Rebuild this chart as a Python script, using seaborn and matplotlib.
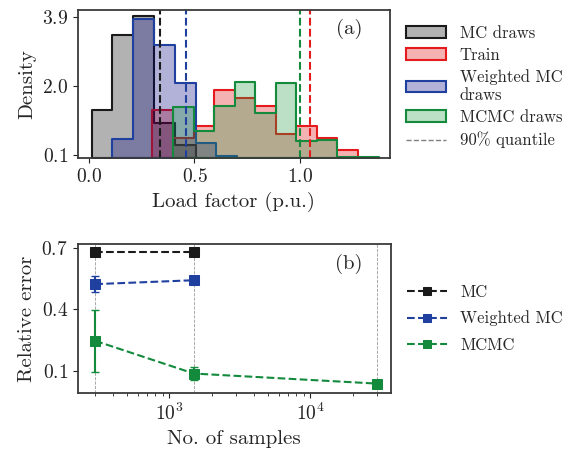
import numpy as np
import pandas as pd
import matplotlib
matplotlib.use("Agg")
import matplotlib.pyplot as plt
import seaborn as sns

# ==========================
# Data
# ==========================
# (a) histogram densities per bin
mc_edges = [0.011, 0.110, 0.210, 0.309, 0.408, 0.507]
mc_density = [1.35, 3.40, 3.92, 0.97, 0.37]

train_edges = [0.297, 0.396, 0.496, 0.591, 0.693, 0.790, 0.886, 0.981, 1.080, 1.176, 1.275]
train_density = [1.33, 0.56, 0.90, 1.89, 1.66, 1.445, 0.67, 0.896, 0.56, 0.24]

wmc_edges = [0.110, 0.210, 0.309, 0.408, 0.507, 0.600, 0.700]
wmc_density = [0.53, 3.85, 3.12, 2.09, 0.42, 0.07]

mcmc_edges = [0.397, 0.496, 0.591, 0.693, 0.790, 0.886, 0.981, 1.080, 1.176, 1.275, 1.378]
mcmc_density = [1.42, 0.76, 1.46, 2.115, 1.245, 2.07, 0.485, 0.51, 0.04, 0.04]

# 90% quantiles
q90 = {"MC": 0.336, "Train": 1.047, "Weighted": 0.460, "MCMC": 1.000}

# (b) relative error vs number of samples
mc_n = [300, 1500]
mc_err = [0.677, 0.677]
mc_std = [0.004, 0.004]

wmc_n = [300, 1500]
wmc_err = [0.522, 0.541]
wmc_std = [0.040, 0.015]

mcmc_n = [300, 1500, 30000]
mcmc_err = [0.246, 0.087, 0.038]
mcmc_std = [0.150, 0.032, 0.004]

sample_sizes = [300, 1500, 30000]

# ==========================
# Style
# ==========================
sns.set_style("ticks")
plt.rcParams["font.family"] = ["cmr10", "DejaVu Serif"]
plt.rcParams["mathtext.fontset"] = "cm"
plt.rcParams["axes.formatter.use_mathtext"] = True
plt.rcParams["axes.edgecolor"] = "#3a3a3a"
plt.rcParams["axes.linewidth"] = 1.3
plt.rcParams["xtick.color"] = "#222222"
plt.rcParams["ytick.color"] = "#222222"

BLACK = "#1a1a1a"
RED = "#e41a1c"
BLUE = "#2040a0"
GREEN = "#138a3c"

fig = plt.figure(figsize=(5.63, 4.49), dpi=100)
ax1 = fig.add_axes([0.138, 0.647, 0.555, 0.331])
ax2 = fig.add_axes([0.138, 0.125, 0.556, 0.331])

# ==========================
# Panel (a): histograms
# ==========================
def centers(edges):
    e = np.asarray(edges)
    return (e[:-1] + e[1:]) / 2

hists = [
    ("MC draws", mc_edges, mc_density, "black", BLACK),
    ("Train", train_edges, train_density, "#e00000", RED),
    ("Weighted MC\ndraws", wmc_edges, wmc_density, "#000080", BLUE),
    ("MCMC draws", mcmc_edges, mcmc_density, "#1f9a3f", GREEN),
]

for label, edges, dens, fill, edge in hists:
    sns.histplot(
        x=centers(edges), weights=dens, bins=edges,
        element="step", fill=True, stat="count",
        color=fill, alpha=0.3, edgecolor=edge, linewidth=1.5,
        label=label, ax=ax1,
    )

for key, col in [("MC", BLACK), ("Weighted", BLUE), ("MCMC", GREEN), ("Train", RED)]:
    ax1.axvline(q90[key], color=col, linestyle="--", linewidth=1.5)

ax1.plot([], [], color="gray", linestyle="--", linewidth=1, label="90% quantile")

ax1.set_xlim(-0.055, 1.43)
ax1.set_ylim(0, 4.1)
ax1.set_xticks([0.0, 0.5, 1.0])
ax1.set_yticks([0.1, 2.0, 3.9])
ax1.set_xlabel("Load factor (p.u.)", fontsize=15)
ax1.set_ylabel("Density", fontsize=15)
ax1.tick_params(labelsize=14)
ax1.text(0.91, 0.87, "(a)", transform=ax1.transAxes, ha="right", va="center", fontsize=15)
ax1.legend(loc="upper left", bbox_to_anchor=(1.03, 0.94), frameon=False,
           fontsize=12, handlelength=2.4, labelspacing=0.4, borderaxespad=0)

# ==========================
# Panel (b): relative error
# ==========================
for n in sample_sizes:
    ax2.axvline(n, color="gray", linestyle="--", linewidth=0.6, alpha=0.8, zorder=0)

series = [
    ("MC", mc_n, mc_err, mc_std, BLACK),
    ("Weighted MC", wmc_n, wmc_err, wmc_std, BLUE),
    ("MCMC", mcmc_n, mcmc_err, mcmc_std, GREEN),
]
for label, n, err, std, col in series:
    ax2.errorbar(n, err, yerr=std, fmt="none", ecolor=col, elinewidth=1.5, capsize=3)
    sns.lineplot(x=n, y=err, ax=ax2, color=col, marker="s", markersize=7,
                 markeredgecolor=col, linestyle="--", linewidth=1.5, label=label)

ax2.set_xscale("log")
ax2.set_xlim(225, 37300)
ax2.set_ylim(-0.007, 0.716)
ax2.set_yticks([0.1, 0.4, 0.7])
ax2.set_xlabel("No. of samples", fontsize=15)
ax2.set_ylabel("Relative error", fontsize=15)
ax2.tick_params(labelsize=14)
ax2.text(0.91, 0.87, "(b)", transform=ax2.transAxes, ha="right", va="center", fontsize=15)
ax2.legend(loc="center left", bbox_to_anchor=(1.03, 0.5), frameon=False,
           fontsize=12, handlelength=2.4, labelspacing=0.65, borderaxespad=0,
           markerscale=0.8)

plt.savefig("out.png", dpi=100)
